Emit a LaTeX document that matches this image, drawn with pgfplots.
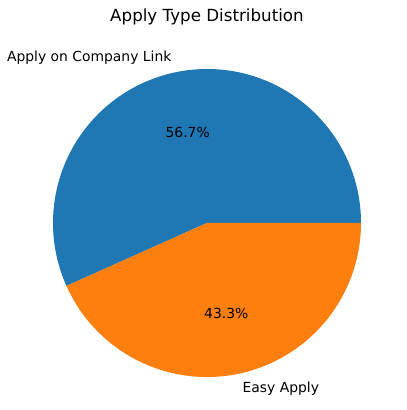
\documentclass[border=0pt]{standalone}
\usepackage{pgfplots}
\pgfplotsset{compat=1.18}
\usepackage{pgfplotstable}
\usepackage{fontspec}
\setmainfont{DejaVu Sans}
\usetikzlibrary{calc}
\definecolor{mplblue}{HTML}{1F77B4}
\definecolor{mplorange}{HTML}{FF7F0E}

% share of each apply type (percent)
\pgfplotstableread{
idx value
0 56.7
1 43.3
}\applytypes

\begin{document}
\begin{tikzpicture}
\pgfplotstablegetelem{0}{value}\of\applytypes \let\va\pgfplotsretval
\pgfplotstablegetelem{1}{value}\of\applytypes \let\vb\pgfplotsretval
\pgfmathsetmacro{\aone}{3.6*(100*\va/(\va+\vb))}
\pgfmathsetmacro{\mida}{\aone/2}
\pgfmathsetmacro{\midb}{(\aone+360)/2}
\begin{axis}[
    x=1pt, y=1pt,
    xmin=-207, xmax=200, ymin=-187, ymax=223,
    hide axis, clip=false,
]
\path (axis cs:-207,-187) rectangle (axis cs:200,223);
% wedges
\fill[mplblue] (axis cs:0,0) -- ++(0:154pt)
  arc[start angle=0, end angle=\aone, radius=154pt] -- cycle;
\fill[mplorange] (axis cs:0,0) -- ++(\aone:154pt)
  arc[start angle=\aone, end angle=360, radius=154pt] -- cycle;
% labels
\tikzset{lbl/.style={inner sep=0pt, font=\fontsize{13.9}{16}\selectfont}}
\node[lbl, anchor=east] at ($(axis cs:0,0)+(\mida:169.4pt)$) {Apply on Company Link};
\node[lbl, anchor=west] at ($(axis cs:0,0)+(\midb:169.4pt)$) {Easy Apply};
\node[lbl] at ($(axis cs:0,0)+(\mida:92.4pt)$) {56.7\%};
\node[lbl] at ($(axis cs:0,0)+(\midb:92.4pt)$) {43.3\%};
% title
\node[inner sep=0pt, font=\fontsize{16.7}{20}\selectfont] at (axis cs:0,206) {Apply Type Distribution};
\end{axis}
\end{tikzpicture}
\end{document}
